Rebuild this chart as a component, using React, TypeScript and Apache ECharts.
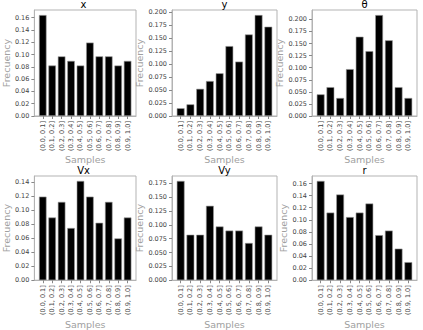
import React, { useEffect, useRef } from "react";
import * as echarts from "echarts";

const categories = ["(0.0, 0.1]", "(0.1, 0.2]", "(0.2, 0.3]", "(0.3, 0.4]", "(0.4, 0.5]", "(0.5, 0.6]", "(0.6, 0.7]", "(0.7, 0.8]", "(0.8, 0.9]", "(0.9, 1.0]"];

const valuesX = [0.1642, 0.0821, 0.097, 0.0896, 0.0821, 0.1194, 0.097, 0.097, 0.0821, 0.0896];
const valuesY = [0.0149, 0.0224, 0.0522, 0.0672, 0.0821, 0.1343, 0.1045, 0.1567, 0.194, 0.1716];
const valuesTheta = [0.0448, 0.0597, 0.0373, 0.097, 0.1642, 0.1343, 0.209, 0.1567, 0.0597, 0.0373];
const valuesVx = [0.1194, 0.0896, 0.1119, 0.0746, 0.1418, 0.1194, 0.0821, 0.1119, 0.0597, 0.0896];
const valuesVy = [0.1791, 0.0821, 0.0821, 0.1343, 0.097, 0.0896, 0.0896, 0.0672, 0.097, 0.0821];
const valuesR = [0.1642, 0.1119, 0.1418, 0.1045, 0.1119, 0.1269, 0.0746, 0.0821, 0.0522, 0.0299];

const ticks2 = ["0.00", "0.02", "0.04", "0.06", "0.08", "0.10", "0.12", "0.14", "0.16"];
const ticks2Vx = ["0.00", "0.02", "0.04", "0.06", "0.08", "0.10", "0.12", "0.14"];
const ticks3 = ["0.000", "0.025", "0.050", "0.075", "0.100", "0.125", "0.150", "0.175", "0.200"];
const ticks3Vy = ["0.000", "0.025", "0.050", "0.075", "0.100", "0.125", "0.150", "0.175"];

const panels = [
  { title: "x", values: valuesX, ticks: ticks2 },
  { title: "y", values: valuesY, ticks: ticks3 },
  { title: "θ", values: valuesTheta, ticks: ticks3 },
  { title: "Vx", values: valuesVx, ticks: ticks2Vx },
  { title: "Vy", values: valuesVy, ticks: ticks3Vy },
  { title: "r", values: valuesR, ticks: ticks2 },
];

const colLeft = [31, 172, 312];
const rowTop = [10, 176];
const plotW = 105;
const plotH = 106;

const FONT = "DejaVu Sans";
const FRAME = "#b3b3b3";

export default function App() {
  const ref = useRef<HTMLDivElement>(null);
  useEffect(() => {
    if (!ref.current) return;
    const chart = echarts.init(ref.current, undefined, { renderer: "svg" });
    const grids: any[] = [];
    const xAxes: any[] = [];
    const yAxes: any[] = [];
    const series: any[] = [];
    const graphics: any[] = [];
    panels.forEach((p, i) => {
      const c = i % 3;
      const r = Math.floor(i / 3);
      const left = colLeft[c];
      const top = rowTop[r];
      grids.push({ left, top, width: plotW, height: plotH, show: true, borderColor: FRAME, borderWidth: 1, backgroundColor: "transparent", containLabel: false });
      xAxes.push({
        type: "value",
        gridIndex: i,
        min: -0.89,
        max: 9.89,
        name: "Samples",
        nameLocation: "middle",
        nameGap: 31,
        nameTextStyle: { color: "#a0a0a0", fontSize: 9.5, fontFamily: FONT },
        axisLine: { show: true, onZero: false, lineStyle: { color: FRAME, width: 1 } },
        axisTick: { show: true, length: 3, lineStyle: { color: "#888" }, customValues: categories.map((_, k) => k) },
        axisLabel: {
          show: true,
          rotate: 90,
          fontSize: 6.5,
          fontFamily: FONT,
          color: "#444",
          margin: 5,
          customValues: categories.map((_, k) => k),
          formatter: (v: number) => categories[Math.round(v)] ?? "",
        },
        splitLine: { show: false },
      });
      yAxes.push({
        type: "value",
        gridIndex: i,
        min: 0,
        max: (e: any) => e.max * 1.05,
        name: "Frecuency",
        nameLocation: "middle",
        nameGap: 20,
        nameTextStyle: { color: "#a0a0a0", fontSize: 9.5, fontFamily: FONT },
        axisLine: { show: true, onZero: false, lineStyle: { color: FRAME, width: 1 } },
        axisTick: { show: true, length: 3, lineStyle: { color: "#888" }, customValues: p.ticks.map((t) => parseFloat(t)) },
        axisLabel: {
          show: true,
          fontSize: 6.5,
          fontFamily: FONT,
          color: "#444",
          margin: 5,
          customValues: p.ticks.map((t) => parseFloat(t)),
          formatter: (v: number) => {
            const found = p.ticks.find((t) => Math.abs(parseFloat(t) - v) < 1e-9);
            return found ?? "";
          },
        },
        splitLine: { show: false },
      });
      series.push({
        type: "bar",
        xAxisIndex: i,
        yAxisIndex: i,
        data: p.values.map((v, k) => [k, v]),
        barWidth: "80%",
        itemStyle: { color: "#000", borderColor: "#9a9a9a", borderWidth: 0.6 },
        emphasis: { disabled: true },
      });
      graphics.push({
        type: "text",
        x: left + plotW / 2,
        y: top - 1,
        style: { text: p.title, align: "center", verticalAlign: "bottom", fontSize: 10, lineHeight: 9, fontFamily: FONT, fill: "#000" },
      });
    });
    chart.setOption({
      animation: false,
      backgroundColor: "#fff",
      grid: grids,
      xAxis: xAxes,
      yAxis: yAxes,
      series,
      graphic: graphics,
    });
    return () => chart.dispose();
  }, []);
  return <div ref={ref} style={{ position: "fixed", left: 0, top: 0, width: 423, height: 330 }} />;
}
